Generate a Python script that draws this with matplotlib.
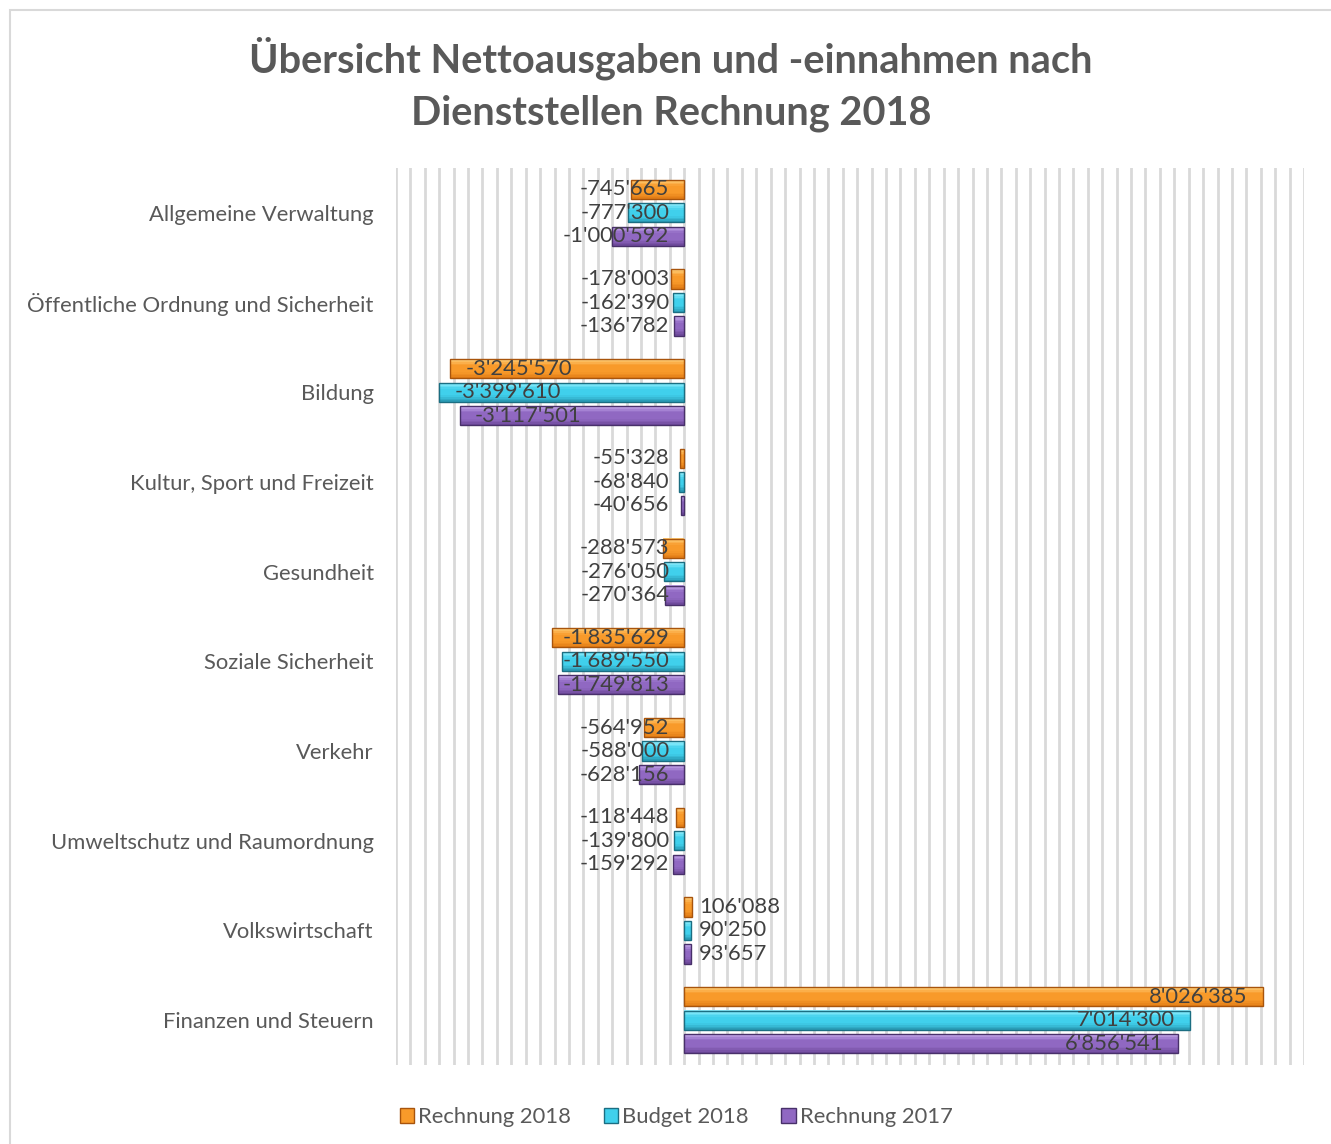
import numpy as np
import matplotlib
matplotlib.use("Agg")
import matplotlib.pyplot as plt
from matplotlib.colors import LinearSegmentedColormap
from matplotlib.patches import Rectangle, Patch

# ---------------- data ----------------
categories = ["Allgemeine Verwaltung", "Öffentliche Ordnung und Sicherheit", "Bildung",
              "Kultur, Sport und Freizeit", "Gesundheit", "Soziale Sicherheit", "Verkehr",
              "Umweltschutz und Raumordnung", "Volkswirtschaft", "Finanzen und Steuern"]
series_names = ["Rechnung 2018", "Budget 2018", "Rechnung 2017"]
rechnung_2018 = [-745665, -178003, -3245570, -55328, -288573, -1835629, -564952, -118448, 106088, 8026385]
budget_2018 = [-777300, -162390, -3399610, -68840, -276050, -1689550, -588000, -139800, 90250, 7014300]
rechnung_2017 = [-1000592, -136782, -3117501, -40656, -270364, -1749813, -628156, -159292, 93657, 6856541]
title = "Übersicht Nettoausgaben und -einnahmen nach\nDienststellen Rechnung 2018"

# ---------------- style ----------------
FONT = ["Lato", "DejaVu Sans"]
plt.rcParams['font.family'] = FONT
FS = 15.8
grad_colors = [
    ("#FFD27E", "#F89A2A", "#E07A14", "#A8540C"),   # orange
    ("#9AF2FF", "#40D0EC", "#2796B0", "#1B6E82"),   # cyan
    ("#C9AEEE", "#9068C2", "#6A4696", "#48306A"),   # purple
]

W, H = 1331, 1144
fig = plt.figure(figsize=(W / 100, H / 100), dpi=100)
fig.patch.set_facecolor("white")

# outer chart border (extends off canvas on right/bottom)
fig.patches.append(Rectangle((10 / W, -0.05), 1.2, (H - 10) / H + 0.05, transform=fig.transFigure,
                             fill=False, edgecolor="#d9d9d9", linewidth=1.5))

ax = fig.add_axes([396 / W, (H - 1065) / H, 908 / W, 897 / H])
xmin, xmax = -4_000_000, 8_600_000
ax.set_xlim(xmin, xmax)
ny = len(categories)
ax.set_ylim(ny - 0.5, -0.5)
ax.set_xticks(np.arange(xmin, xmax + 1, 200_000))
ax.set_yticks(range(ny))
ax.set_yticklabels(categories, fontsize=FS, color="#595959", family=FONT)
ax.tick_params(axis="x", length=0, labelbottom=False)
ax.tick_params(axis="y", length=0, pad=16)
ax.grid(axis="x", color="#d9d9d9", linewidth=2)
ax.set_axisbelow(True)
for s in ax.spines.values():
    s.set_visible(False)

all_series = [rechnung_2018, budget_2018, rechnung_2017]
offsets = [-0.262, 0.0, 0.262]
bar_h = 0.215
y = np.arange(ny)
NSL = 12  # gradient slices per bar

for si, (vals, off) in enumerate(zip(all_series, offsets)):
    top, mid, bot, edge = grad_colors[si]
    cmap = LinearSegmentedColormap.from_list(f"g{si}", [top, mid, mid, bot])
    vals = np.asarray(vals)
    # gradient slices (top of bar = light, bottom = dark)
    for k in range(NSL):
        frac = (k + 0.5) / NSL
        yc = y + off - bar_h / 2 + (k + 0.5) * bar_h / NSL
        ax.barh(yc, vals, height=bar_h / NSL * 1.05, color=cmap(frac), linewidth=0, zorder=2)
    # outline
    ax.barh(y + off, vals, height=bar_h, fill=False, edgecolor=edge, linewidth=1.0, zorder=3)

ax.set_xlim(xmin, xmax)
ax.set_ylim(ny - 0.5, -0.5)

# ---------------- data labels (Excel-like inside end with clamping) ----------------
fig.canvas.draw()
renderer = fig.canvas.get_renderer()
pad = 15
x0_px = ax.transData.transform((0, 0))[0]
inv = ax.transData.inverted()
for si, (vals, off) in enumerate(zip(all_series, offsets)):
    for i, v in enumerate(vals):
        lab = f"{v:,}".replace(",", "'")
        t = ax.text(0, i + off, lab, fontsize=FS, color="#404040", va="center", ha="left",
                    zorder=5, family=FONT)
        wpx = t.get_window_extent(renderer).width
        vpx = ax.transData.transform((v, 0))[0]
        if v < 0:
            lft = vpx + pad
            if lft + wpx > x0_px - pad:
                lft = x0_px - pad - wpx
        else:
            lft = vpx - pad - wpx
            if lft < x0_px + pad:
                lft = x0_px + pad
        t.set_x(inv.transform((lft, 0))[0])

# ---------------- legend ----------------
handles = [Patch(facecolor=grad_colors[i][1], edgecolor=grad_colors[i][3], label=series_names[i])
           for i in range(3)]
leg = fig.legend(handles=handles, loc="center", bbox_to_anchor=(676 / W, 1 - 1117 / H), ncol=3,
                 frameon=False, fontsize=FS, handlelength=0.65, handleheight=0.65,
                 handletextpad=0.18, columnspacing=1.5)
for txt in leg.get_texts():
    txt.set_color("#595959")

fig.text(671 / W, 1 - 84 / H, title, ha="center", va="center", fontsize=28.6, fontweight="bold",
         color="#595959", linespacing=1.5, family=FONT)

fig.savefig("out.png", dpi=100)
